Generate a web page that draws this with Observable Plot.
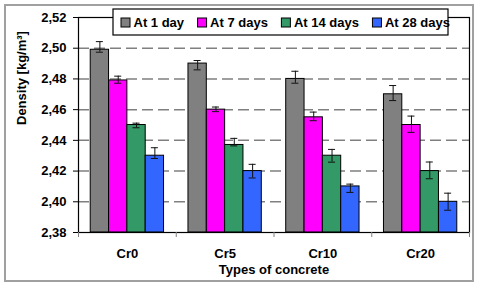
<!DOCTYPE html>
<html>
<head>
<meta charset="utf-8">
<script src="https://cdn.jsdelivr.net/npm/d3@7"></script>
<script src="https://cdn.jsdelivr.net/npm/@observablehq/plot@0.6"></script>
<style>
  html, body { margin: 0; padding: 0; background: #fff; }
  svg { display: block; }
</style>
</head>
<body>
<div id="chart"></div>
<script>
const categories = ["Cr0", "Cr5", "Cr10", "Cr20"];
const seriesNames = ["At 1 day", "At 7 days", "At 14 days", "At 28 days"];
const seriesColors = ["#808080", "#FF00FF", "#339966", "#3366FF"];

const day1  = [2.499, 2.490, 2.480, 2.470];
const day7  = [2.479, 2.460, 2.455, 2.450];
const day14 = [2.450, 2.437, 2.430, 2.420];
const day28 = [2.430, 2.420, 2.410, 2.400];

const day1Lo  = [2.4974, 2.4859, 2.4772, 2.4659];
const day1Hi  = [2.5043, 2.4920, 2.4850, 2.4757];
const day7Lo  = [2.4772, 2.4587, 2.4528, 2.4452];
const day7Hi  = [2.4818, 2.4617, 2.4584, 2.4558];
const day14Lo = [2.4482, 2.4364, 2.4258, 2.4150];
const day14Hi = [2.4512, 2.4413, 2.4341, 2.4259];
const day28Lo = [2.4282, 2.4155, 2.4061, 2.3945];
const day28Hi = [2.4352, 2.4244, 2.4115, 2.4056];

const yTicks = [2.38, 2.40, 2.42, 2.44, 2.46, 2.48, 2.50, 2.52];
const gridTicks = [2.40, 2.42, 2.44, 2.46, 2.48, 2.50];
const yLabel = "Density [kg/m³]";
const xLabel = "Types of concrete";

const seriesVals = [day1, day7, day14, day28];
const seriesLo = [day1Lo, day7Lo, day14Lo, day28Lo];
const seriesHi = [day1Hi, day7Hi, day14Hi, day28Hi];

const barW = 0.1875;
const rows = [];
categories.forEach((c, i) => {
  seriesNames.forEach((s, j) => {
    const x1 = i - 2 * barW + j * barW;
    rows.push({cat: c, series: s, x1, x2: x1 + barW, xc: x1 + barW / 2,
      value: seriesVals[j][i], lo: seriesLo[j][i], hi: seriesHi[j][i]});
  });
});

const FONT = "'Liberation Sans', Arial, sans-serif";
const fmt = d => d3.format(".2f")(d).replace(".", ",");
const capHalf = 0.036;

const plot = Plot.plot({
  width: 480,
  height: 287,
  marginLeft: 78,
  marginRight: 11,
  marginTop: 17,
  marginBottom: 55,
  style: {fontFamily: FONT, fontSize: "13px", fontWeight: "bold", color: "#000", background: "#fff"},
  x: {domain: [-0.5, 3.5], axis: null},
  y: {domain: [2.38, 2.52], axis: null},
  color: {domain: seriesNames, range: seriesColors},
  marks: [
    Plot.ruleY(gridTicks, {stroke: "#808080", strokeWidth: 1.5, strokeDasharray: "11,5"}),
    Plot.rectY(rows, {x1: "x1", x2: "x2", y1: 2.38, y2: "value", fill: "series", stroke: "#000", strokeWidth: 1}),
    Plot.ruleX(rows, {x: "xc", y1: "lo", y2: "hi", stroke: "#111", strokeWidth: 1}),
    Plot.ruleY(rows, {y: "lo", x1: d => d.xc - capHalf, x2: d => d.xc + capHalf, stroke: "#111", strokeWidth: 1}),
    Plot.ruleY(rows, {y: "hi", x1: d => d.xc - capHalf, x2: d => d.xc + capHalf, stroke: "#111", strokeWidth: 1}),
    Plot.frame({stroke: "#000", strokeWidth: 1.2}),
    Plot.axisY({ticks: yTicks, tickFormat: fmt, tickSize: 5, tickPadding: 7, stroke: "#000", fontSize: 13, fontWeight: "bold"}),
    Plot.axisX({ticks: [-0.5, 0.5, 1.5, 2.5, 3.5], tickFormat: () => "", tickSize: 5, stroke: "#808080"}),
    Plot.axisX({ticks: [0, 1, 2, 3], tickFormat: i => categories[i], tickSize: 0, tickPadding: 16, fontSize: 13, fontWeight: "bold"}),
    Plot.text([xLabel], {frameAnchor: "bottom", dy: 32, lineAnchor: "top", fontSize: 13, fontWeight: "bold", fill: "#000"}),
    Plot.text([yLabel], {frameAnchor: "left", dx: -57, rotate: -90, fontSize: 13, fontWeight: "bold", fill: "#000"})
  ]
});

document.getElementById("chart").append(plot);

// outer chart border
const svg = d3.select(plot);
svg.insert("rect", ":first-child")
  .attr("x", 5).attr("y", 5).attr("width", 468).attr("height", 276)
  .attr("fill", "#fff").attr("stroke", "#a0a0a0").attr("stroke-width", 2);

// legend
const lg = svg.append("g").attr("text-anchor", "start");
lg.append("rect")
  .attr("x", 113).attr("y", 9).attr("width", 335).attr("height", 26)
  .attr("fill", "#fff").attr("stroke", "#000").attr("stroke-width", 1.2);
let cx = 121;
seriesNames.forEach((s, j) => {
  lg.append("rect").attr("x", cx).attr("y", 18).attr("width", 9).attr("height", 9)
    .attr("fill", seriesColors[j]).attr("stroke", "#000").attr("stroke-width", 1);
  const t = lg.append("text").attr("x", cx + 12.5).attr("y", 22.5).attr("dy", "0.35em")
    .attr("text-anchor", "start")
    .attr("font-family", FONT).attr("font-size", 13).attr("font-weight", "bold").attr("fill", "#000")
    .text(s);
  cx += 12.5 + t.node().getComputedTextLength() + 13.5;
});
</script>
</body>
</html>
